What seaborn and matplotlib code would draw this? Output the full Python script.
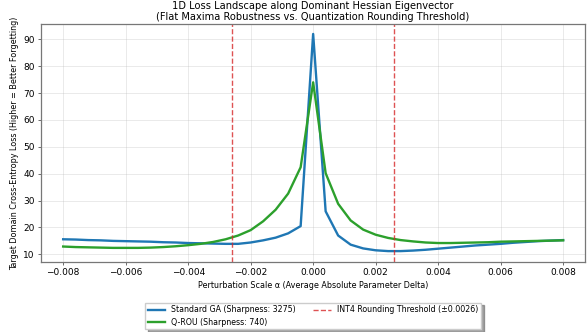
import numpy as np
import pandas as pd
import matplotlib
matplotlib.use("Agg")
import matplotlib.pyplot as plt
import seaborn as sns

alpha_vals = np.round(np.arange(-0.008, 0.00801, 0.0004), 4)

standard_ga = [15.6, 15.5, 15.3, 15.2, 15.0, 14.9, 14.8, 14.7, 14.5, 14.4,
               14.2, 14.1, 14.0, 13.9, 13.9, 14.4, 15.2, 16.2, 17.8, 20.5,
               92.0,
               26.0, 17.0, 13.6, 12.2, 11.5, 11.2, 11.2, 11.4, 11.7, 12.1,
               12.5, 12.9, 13.3, 13.6, 13.9, 14.3, 14.6, 14.9, 15.1, 15.3]
q_rou = [12.9, 12.7, 12.6, 12.5, 12.4, 12.4, 12.4, 12.5, 12.7, 13.0,
         13.4, 13.9, 14.6, 15.6, 17.0, 19.0, 22.3, 26.6, 32.6, 42.4,
         74.0,
         40.2, 28.8, 22.6, 19.2, 17.3, 16.1, 15.3, 14.8, 14.4, 14.2,
         14.2, 14.3, 14.4, 14.5, 14.7, 14.8, 14.9, 15.0, 15.1, 15.2]
threshold = 0.0026

labels = ["Standard GA (Sharpness: 3275)", "Q-ROU (Sharpness: 740)"]
colors = ["#1f77b4", "#2ca02c"]

df = pd.DataFrame({
    "alpha": np.concatenate([alpha_vals, alpha_vals]),
    "loss": standard_ga + q_rou,
    "method": [labels[0]] * len(alpha_vals) + [labels[1]] * len(alpha_vals),
})

plt.rcParams["font.family"] = ["DejaVu Sans"]
fig = plt.figure(figsize=(5.87, 3.32), dpi=100)
ax = fig.add_axes([0.0698, 0.2117, 0.9268, 0.716])

sns.lineplot(data=df, x="alpha", y="loss", hue="method", palette=colors,
             linewidth=1.7, ax=ax, legend=False)
for i, lab in enumerate(labels):
    ax.plot([], [], color=colors[i], linewidth=1.7, label=lab)
ax.axvline(-threshold, color="#d62728", linestyle="--", linewidth=1.0, alpha=0.8,
           label="INT4 Rounding Threshold (±0.0026)")
ax.axvline(threshold, color="#d62728", linestyle="--", linewidth=1.0, alpha=0.8)

ax.set_xlim(-0.00871, 0.0087)
ax.set_ylim(7.25, 95.7)
ax.set_xticks([-0.008, -0.006, -0.004, -0.002, 0.0, 0.002, 0.004, 0.006, 0.008])
ax.set_xticklabels(["−0.008", "−0.006", "−0.004", "−0.002", "0.000", "0.002", "0.004", "0.006", "0.008"])
ax.set_yticks([10, 20, 30, 40, 50, 60, 70, 80, 90])
ax.tick_params(labelsize=6.5, length=2.5, width=0.6, pad=2, color="#555555")
ax.grid(True, alpha=0.3, linewidth=0.6)
for s in ax.spines.values():
    s.set_linewidth(0.9)
    s.set_color("#777777")

ax.set_xlabel("Perturbation Scale α (Average Absolute Parameter Delta)", fontsize=5.8, labelpad=3)
ax.set_ylabel("Target Domain Cross-Entropy Loss (Higher = Better Forgetting)", fontsize=5.8, labelpad=3)
ax.set_title("1D Loss Landscape along Dominant Hessian Eigenvector\n(Flat Maxima Robustness vs. Quantization Rounding Threshold)",
             fontsize=7.1, pad=3, linespacing=1.05)

ax.legend(loc="upper center", bbox_to_anchor=(0.5, -0.1725), ncol=2, fontsize=5.7,
          frameon=True, shadow=True, fancybox=False, handlelength=2.2,
          columnspacing=2.2, borderpad=0.35, labelspacing=0.4, borderaxespad=0,
          edgecolor="#cccccc")

fig.savefig("out.png", dpi=100)
